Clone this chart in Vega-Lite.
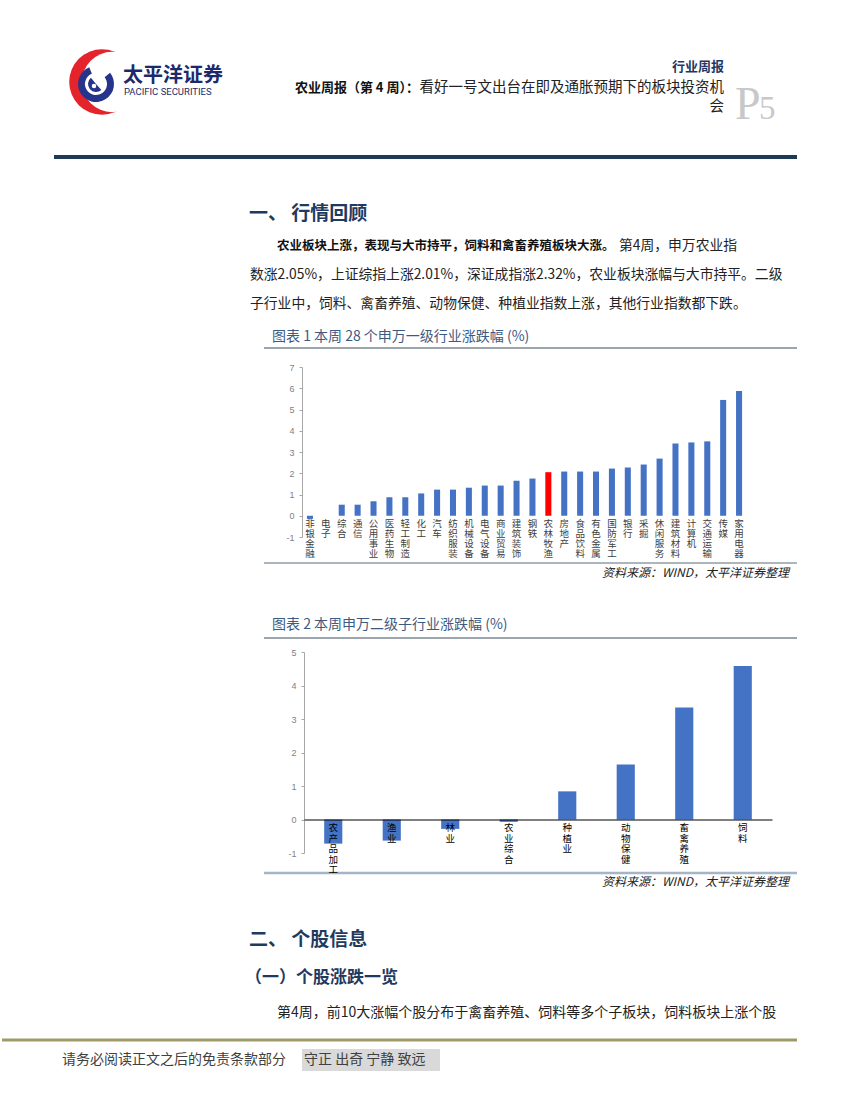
{
  "$schema": "https://vega.github.io/schema/vega-lite/v6.json",
  "padding": 0,
  "spacing": 0,
  "bounds": "flush",
  "config": {
    "view": {"stroke": null},
    "font": "Noto Sans CJK SC",
    "text": {"font": "Noto Sans CJK SC"},
    "axis": {"labelFont": "Noto Sans CJK SC"}
  },
  "vconcat": [
    {
      "width": 850,
      "height": 350,
      "data": {"values": [{}]},
      "layer": [
        {"mark": {"type": "point", "shape": "circle", "filled": true, "color": "#e5232b", "opacity": 1, "size": 4300}, "encoding": {"x": {"value": 100}, "y": {"value": 82}}},
        {"mark": {"type": "point", "shape": "circle", "filled": true, "color": "#ffffff", "opacity": 1, "size": 3632}, "encoding": {"x": {"value": 110}, "y": {"value": 82}}},
        {"mark": {"type": "arc", "x": 94, "y": 84, "innerRadius": 11, "outerRadius": 18, "theta": 0.9, "theta2": 5.9, "color": "#27348b"}, "encoding": {}},
        {"mark": {"type": "arc", "x": 94, "y": 84, "innerRadius": 0, "outerRadius": 8, "theta": 2.4, "theta2": 5.6, "color": "#27348b"}, "encoding": {}},
        {"mark": {"type": "point", "shape": "circle", "filled": true, "color": "#ffffff", "opacity": 1, "size": 20}, "encoding": {"x": {"value": 92}, "y": {"value": 86}}},
        {"mark": {"type": "text", "text": "太平洋证券", "fontSize": 20, "fontWeight": "bold", "color": "#1c2a6b", "align": "left", "baseline": "middle"}, "encoding": {"x": {"value": 121}, "y": {"value": 76}}},
        {"mark": {"type": "text", "text": "PACIFIC SECURITIES", "font": "Roboto", "fontSize": 9.5, "color": "#1c2a6b", "align": "left", "baseline": "middle"}, "encoding": {"x": {"value": 122}, "y": {"value": 92}}},
        {"mark": {"type": "text", "text": "行业周报", "fontSize": 13, "fontWeight": "bold", "color": "#1f3864", "align": "right", "baseline": "middle"}, "encoding": {"x": {"value": 722}, "y": {"value": 67}}},
        {"mark": {"type": "text", "text": "农业周报（第 4 周）：", "fontSize": 13, "fontWeight": "bold", "color": "#111111", "align": "right", "baseline": "middle"}, "encoding": {"x": {"value": 417}, "y": {"value": 88}}},
        {"mark": {"type": "text", "text": "看好一号文出台在即及通胀预期下的板块投资机", "fontSize": 14.5, "color": "#222222", "align": "right", "baseline": "middle"}, "encoding": {"x": {"value": 722}, "y": {"value": 88}}},
        {"mark": {"type": "text", "text": "会", "fontSize": 14.5, "color": "#222222", "align": "right", "baseline": "middle"}, "encoding": {"x": {"value": 722}, "y": {"value": 107}}},
        {"mark": {"type": "text", "text": "P", "font": "Liberation Serif", "fontSize": 46, "color": "#c8c8c8", "align": "left", "baseline": "alphabetic"}, "encoding": {"x": {"value": 733}, "y": {"value": 119}}},
        {"mark": {"type": "text", "text": "5", "font": "Liberation Serif", "fontSize": 33, "color": "#c8c8c8", "align": "left", "baseline": "alphabetic"}, "encoding": {"x": {"value": 757}, "y": {"value": 119}}},
        {"mark": {"type": "rule", "color": "#1f3a55", "strokeWidth": 4}, "encoding": {"x": {"value": 52}, "x2": {"value": 795}, "y": {"value": 157}}},
        {"mark": {"type": "text", "text": "一、 行情回顾", "fontSize": 19, "fontWeight": "bold", "color": "#1f3a5f", "align": "left", "baseline": "middle"}, "encoding": {"x": {"value": 247}, "y": {"value": 214}}},
        {"mark": {"type": "text", "text": "农业板块上涨，表现与大市持平，饲料和禽畜养殖板块大涨。", "fontSize": 12.5, "fontWeight": "bold", "color": "#111111", "align": "left", "baseline": "middle"}, "encoding": {"x": {"value": 275}, "y": {"value": 246}}},
        {"mark": {"type": "text", "text": "第4周，申万农业指", "fontSize": 13.8, "color": "#222222", "align": "left", "baseline": "middle"}, "encoding": {"x": {"value": 617}, "y": {"value": 246}}},
        {"mark": {"type": "text", "text": "数涨2.05%，上证综指上涨2.01%，深证成指涨2.32%，农业板块涨幅与大市持平。二级", "fontSize": 13.8, "color": "#222222", "align": "left", "baseline": "middle"}, "encoding": {"x": {"value": 248}, "y": {"value": 275}}},
        {"mark": {"type": "text", "text": "子行业中，饲料、禽畜养殖、动物保健、种植业指数上涨，其他行业指数都下跌。", "fontSize": 13.8, "color": "#222222", "align": "left", "baseline": "middle"}, "encoding": {"x": {"value": 248}, "y": {"value": 304}}},
        {"mark": {"type": "text", "text": "图表 1 本周 28 个申万一级行业涨跌幅 (%)", "fontSize": 14, "color": "#3d5a80", "align": "left", "baseline": "middle"}, "encoding": {"x": {"value": 270}, "y": {"value": 337}}},
        {"mark": {"type": "rule", "color": "#3b4a5a", "strokeWidth": 1}, "encoding": {"x": {"value": 262}, "x2": {"value": 795}, "y": {"value": 348}}}
      ]
    },
    {
      "width": 850,
      "height": 240,
      "layer": [
        {
          "data": {"values": [
            {"industry": "非银金融", "change": -0.15},
            {"industry": "电子", "change": 0.0},
            {"industry": "综合", "change": 0.52},
            {"industry": "通信", "change": 0.52},
            {"industry": "公用事业", "change": 0.68},
            {"industry": "医药生物", "change": 0.87},
            {"industry": "轻工制造", "change": 0.87},
            {"industry": "化工", "change": 1.05},
            {"industry": "汽车", "change": 1.23},
            {"industry": "纺织服装", "change": 1.23},
            {"industry": "机械设备", "change": 1.32},
            {"industry": "电气设备", "change": 1.42},
            {"industry": "商业贸易", "change": 1.42},
            {"industry": "建筑装饰", "change": 1.65},
            {"industry": "钢铁", "change": 1.75},
            {"industry": "农林牧渔", "change": 2.05},
            {"industry": "房地产", "change": 2.08},
            {"industry": "食品饮料", "change": 2.08},
            {"industry": "有色金属", "change": 2.08},
            {"industry": "国防军工", "change": 2.22},
            {"industry": "银行", "change": 2.27},
            {"industry": "采掘", "change": 2.41},
            {"industry": "休闲服务", "change": 2.69},
            {"industry": "建筑材料", "change": 3.40},
            {"industry": "计算机", "change": 3.45},
            {"industry": "交通运输", "change": 3.50},
            {"industry": "传媒", "change": 5.45},
            {"industry": "家用电器", "change": 5.87}
          ]},
          "mark": {"type": "bar"},
          "encoding": {
            "x": {"field": "industry", "type": "nominal", "sort": null,
                  "scale": {"range": [300, 745], "paddingInner": 0.62, "paddingOuter": 0.31},
                  "axis": {"orient": "bottom", "offset": -74.25, "title": null, "domain": false, "ticks": false, "labelAngle": 0, "labelExpr": "split(datum.label, '')", "labelFontSize": 9.5, "labelLineHeight": 10, "labelColor": "#404040", "labelPadding": 3, "labelBaseline": "top", "labelOverlap": false, "labelBound": false, "zindex": 1}},
            "y": {"field": "change", "type": "quantitative",
                  "scale": {"domain": [-1, 7], "range": [187, 17], "nice": false, "zero": false},
                  "axis": {"orient": "left", "offset": -300, "title": null, "grid": false, "values": [-1, 0, 1, 2, 3, 4, 5, 6, 7], "labelExpr": "datum.value < 0 ? '-' + abs(datum.value) : '' + datum.value", "domainColor": "#a6a6a6", "tickColor": "#a6a6a6", "tickSize": 3, "labelFontSize": 9, "labelColor": "#7f7f7f", "labelPadding": 5, "labelFont": "Liberation Sans"}},
            "color": {"condition": {"test": "datum.industry === '农林牧渔'", "value": "#ff0000"}, "value": "#4472c4"}
          }
        },
        {"data": {"values": [{}]}, "mark": {"type": "rule", "color": "#5a6a7a", "strokeWidth": 1}, "encoding": {"x": {"value": 262}, "x2": {"value": 795}, "y": {"value": 213}}},
        {"data": {"values": [{}]}, "mark": {"type": "text", "text": "资料来源：WIND，太平洋证券整理", "fontSize": 12, "fontStyle": "italic", "color": "#222222", "align": "right", "baseline": "middle"}, "encoding": {"x": {"value": 787}, "y": {"value": 223}}}
      ]
    },
    {
      "width": 850,
      "height": 300,
      "layer": [
        {"data": {"values": [{}]}, "mark": {"type": "text", "text": "图表 2 本周申万二级子行业涨跌幅 (%)", "fontSize": 14, "color": "#3d5a80", "align": "left", "baseline": "middle"}, "encoding": {"x": {"value": 270}, "y": {"value": 35}}},
        {"data": {"values": [{}]}, "mark": {"type": "rule", "color": "#3b4a5a", "strokeWidth": 1}, "encoding": {"x": {"value": 262}, "x2": {"value": 795}, "y": {"value": 48}}},
        {
          "data": {"values": [
            {"subindustry": "农产品加工", "change": -0.72},
            {"subindustry": "渔业", "change": -0.63},
            {"subindustry": "林业", "change": -0.28},
            {"subindustry": "农业综合", "change": -0.07},
            {"subindustry": "种植业", "change": 0.84},
            {"subindustry": "动物保健", "change": 1.64},
            {"subindustry": "畜禽养殖", "change": 3.34},
            {"subindustry": "饲料", "change": 4.58}
          ]},
          "mark": {"type": "bar", "color": "#4472c4"},
          "encoding": {
            "x": {"field": "subindustry", "type": "nominal", "sort": null,
                  "scale": {"range": [302, 770], "paddingInner": 0.69, "paddingOuter": 0.345},
                  "axis": {"orient": "bottom", "offset": -70.5, "title": null, "domain": true, "domainColor": "#000000", "domainWidth": 1, "ticks": false, "labelAngle": 0, "labelExpr": "split(datum.label, '')", "labelFontSize": 9.5, "labelLineHeight": 10.5, "labelColor": "#000000", "labelPadding": 3, "labelBaseline": "top", "labelOverlap": false, "labelBound": false, "zindex": 1}},
            "y": {"field": "change", "type": "quantitative",
                  "scale": {"domain": [-1, 5], "range": [263, 62], "nice": false, "zero": false},
                  "axis": {"orient": "left", "offset": -302, "title": null, "grid": false, "values": [-1, 0, 1, 2, 3, 4, 5], "labelExpr": "datum.value < 0 ? '-' + abs(datum.value) : '' + datum.value", "domainColor": "#a6a6a6", "tickColor": "#a6a6a6", "tickSize": 3, "labelFontSize": 9, "labelColor": "#7f7f7f", "labelPadding": 5, "labelFont": "Liberation Sans"}}
          }
        },
        {"data": {"values": [{}]}, "mark": {"type": "rule", "color": "#a3b5c6", "strokeWidth": 2.5}, "encoding": {"x": {"value": 262}, "x2": {"value": 795}, "y": {"value": 283}}},
        {"data": {"values": [{}]}, "mark": {"type": "text", "text": "资料来源：WIND，太平洋证券整理", "fontSize": 12, "fontStyle": "italic", "color": "#222222", "align": "right", "baseline": "middle"}, "encoding": {"x": {"value": 787}, "y": {"value": 292}}}
      ]
    },
    {
      "width": 850,
      "height": 210,
      "data": {"values": [{}]},
      "layer": [
        {"mark": {"type": "text", "text": "二、 个股信息", "fontSize": 19, "fontWeight": "bold", "color": "#1f3a5f", "align": "left", "baseline": "middle"}, "encoding": {"x": {"value": 247}, "y": {"value": 50}}},
        {"mark": {"type": "text", "text": "（一）个股涨跌一览", "fontSize": 17, "fontWeight": "bold", "color": "#1f3a5f", "align": "left", "baseline": "middle"}, "encoding": {"x": {"value": 243}, "y": {"value": 88}}},
        {"mark": {"type": "text", "text": "第4周，前10大涨幅个股分布于禽畜养殖、饲料等多个子板块，饲料板块上涨个股", "fontSize": 14, "color": "#222222", "align": "left", "baseline": "middle"}, "encoding": {"x": {"value": 275}, "y": {"value": 123}}},
        {"mark": {"type": "rule", "color": "#a09a6b", "strokeWidth": 3}, "encoding": {"x": {"value": 0}, "x2": {"value": 795}, "y": {"value": 150}}},
        {"mark": {"type": "rect", "color": "#d9d9d9"}, "encoding": {"x": {"value": 300}, "x2": {"value": 438}, "y": {"value": 159}, "y2": {"value": 181}}},
        {"mark": {"type": "text", "text": "请务必阅读正文之后的免责条款部分", "fontSize": 14, "color": "#404040", "align": "left", "baseline": "middle"}, "encoding": {"x": {"value": 60}, "y": {"value": 170}}},
        {"mark": {"type": "text", "text": "守正 出奇 宁静 致远", "fontSize": 14, "color": "#404040", "align": "left", "baseline": "middle"}, "encoding": {"x": {"value": 302}, "y": {"value": 170}}}
      ]
    }
  ]
}
